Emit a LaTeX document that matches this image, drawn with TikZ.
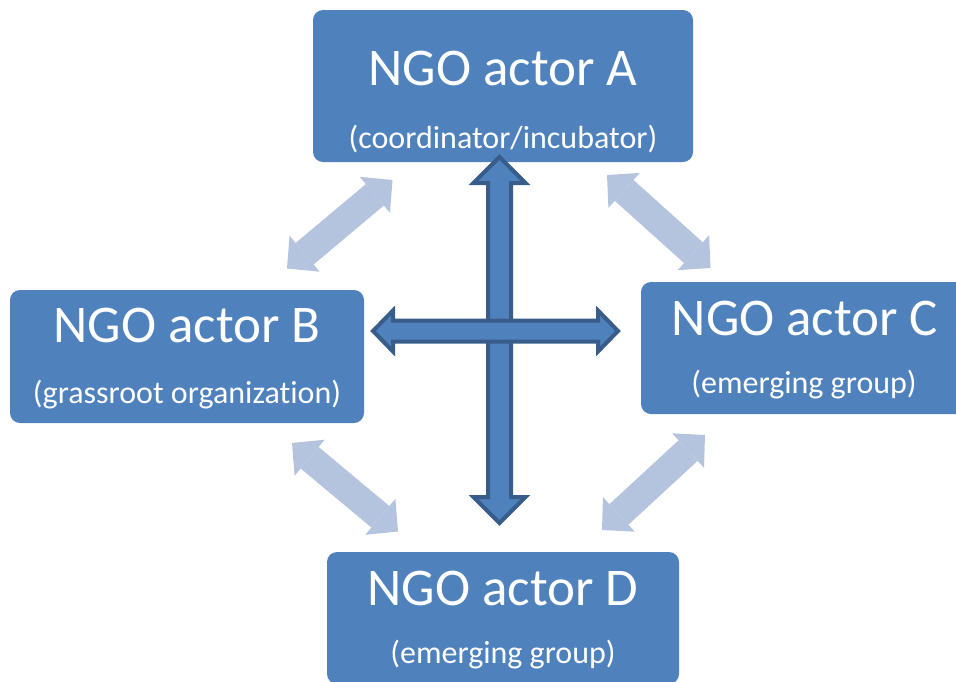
\documentclass[tikz,border=0pt]{standalone}
\usepackage{fontspec}
\setmainfont[Ligatures=NoCommon, RawFeature=-calt]{Carlito}
\usetikzlibrary{arrows.meta, calc}

\definecolor{ngoblue}{RGB}{79,129,189}
\definecolor{ngoedge}{RGB}{56,93,138}
\definecolor{ngolight}{RGB}{180,196,222}

\begin{document}
\begin{tikzpicture}[
  x=1pt, y=-1pt,
  actor/.style={fill=ngoblue, rounded corners=10pt, inner sep=0pt},
  actortitle/.style={anchor=base, text=white, font=\fontsize{53}{62}\selectfont},
  actorrole/.style={anchor=base, text=white, font=\fontsize{32}{38}\selectfont},
  linkarrow/.style={draw=ngolight, line width=28pt,
    {Triangle[width=47pt, length=23pt, line width=0pt]}-{Triangle[width=47pt, length=23pt, line width=0pt]}},
  crossarrow/.style={fill=ngoblue, draw=ngoedge, line width=4pt, line join=miter}
]
\useasboundingbox (0,0) rectangle (956,681);

% Actor boxes
\node[actor, minimum width=380pt, minimum height=152pt] (a) at (503,86) {};
\node[actor, minimum width=354pt, minimum height=133pt] (b) at (187,356.5) {};
\node[actor, minimum width=328pt, minimum height=132pt] (c) at (805,348) {};
\node[actor, minimum width=352pt, minimum height=132pt] (d) at (503,618) {};

% Box texts
\node[actortitle] (atitle) at (503,85) {NGO actor A};
\node[actorrole] (arole) at (503,148) {(coordinator/incubator)};
\node[actortitle] (btitle) at (187,342) {NGO actor B};
\node[actorrole] (brole) at (187,403) {(grassroot organization)};
\node[actortitle] (ctitle) at (805,335) {NGO actor C};
\node[actorrole] (crole) at (804,393) {(emerging group)};
\node[actortitle] (dtitle) at (503,605) {NGO actor D};
\node[actorrole] (drole) at (503,663) {(emerging group)};

% Ends of the light links between neighbours
\coordinate (ab1) at (392.5,180);
\coordinate (ab2) at (287,268.5);
\coordinate (ac1) at (607,175);
\coordinate (ac2) at (710.5,268);
\coordinate (bd1) at (292,443);
\coordinate (bd2) at (398,531.5);
\coordinate (cd1) at (705,435);
\coordinate (cd2) at (602,530);

\draw[linkarrow] (ab1) -- (ab2);
\draw[linkarrow] (ac1) -- (ac2);
\draw[linkarrow] (bd1) -- (bd2);
\draw[linkarrow] (cd1) -- (cd2);

% Central cross: A <-> D, then B <-> C on top
\coordinate (vtop) at (499.5,157);
\coordinate (vbot) at (499.5,523);
\coordinate (hleft) at (373,331);
\coordinate (hright) at (618,331);

\draw[crossarrow] (vtop) -- ++(26,26) -- ++(-14.5,0) -- ($(vbot)+(11.5,-26)$)
  -- ++(14.5,0) -- (vbot) -- ++(-26,-26) -- ++(14.5,0)
  -- ($(vtop)+(-11.5,26)$) -- ++(-14.5,0) -- cycle;
\draw[crossarrow] (hleft) -- ++(20,-20.5) -- ++(0,10) -- ($(hright)+(-20,-10.5)$)
  -- ++(0,-10) -- (hright) -- ++(-20,20.5) -- ++(0,-10)
  -- ($(hleft)+(20,10.5)$) -- ++(0,10) -- cycle;

\end{tikzpicture}
\end{document}
